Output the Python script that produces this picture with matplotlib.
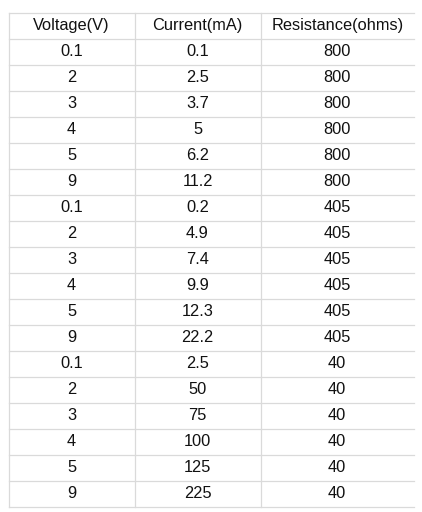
import matplotlib
matplotlib.use("Agg")
import matplotlib.pyplot as plt

headers = ["Voltage(V)", "Current(mA)", "Resistance(ohms)"]
voltage = ["0.1", "2", "3", "4", "5", "9"] * 3
current = ["0.1", "2.5", "3.7", "5", "6.2", "11.2",
           "0.2", "4.9", "7.4", "9.9", "12.3", "22.2",
           "2.5", "50", "75", "100", "125", "225"]
resistance = ["800"] * 6 + ["405"] * 6 + ["40"] * 6

rows = [headers] + [list(r) for r in zip(voltage, current, resistance)]

W, H = 422, 512
fig = plt.figure(figsize=(W / 100, H / 100), dpi=100)
ax = fig.add_axes([0, 0, 1, 1])
ax.set_xlim(0, W)
ax.set_ylim(H, 0)
ax.axis("off")

col_edges = [8.5, 134.5, 260.5, 414]
top, rh = 12.5, 26
n = len(rows)
lc = "#dadada"
for i in range(n + 1):
    y = top + i * rh
    ax.plot([col_edges[0], col_edges[-1]], [y, y], color=lc, lw=0.9)
for x in col_edges[:-1]:
    ax.plot([x, x], [top, top + n * rh], color=lc, lw=0.9)

for i, row in enumerate(rows):
    yc = top + (i + 0.5) * rh
    for j, txt in enumerate(row):
        xc = (col_edges[j] + col_edges[j + 1]) / 2
        ax.text(xc, yc, txt, ha="center", va="center", fontsize=11.8,
                family="Liberation Sans", color="#111111")

fig.savefig("out.png", dpi=100, facecolor="white")
